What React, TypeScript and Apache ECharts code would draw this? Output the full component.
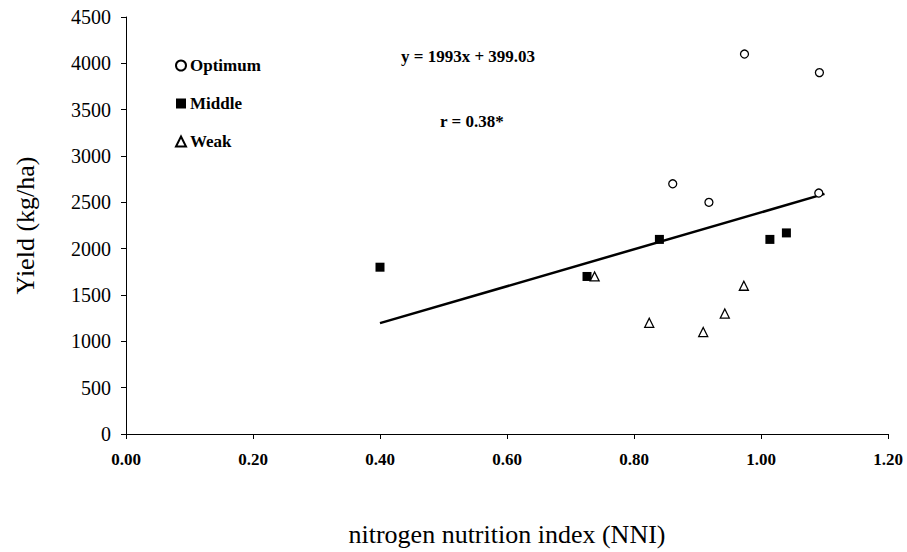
import React, { useEffect, useRef } from "react";
import * as echarts from "echarts";

const optimum: [number, number][] = [
  [0.974, 4100],
  [1.092, 3900],
  [0.861, 2700],
  [0.918, 2500],
  [1.091, 2600],
];
const middle: [number, number][] = [
  [0.40, 1800],
  [0.726, 1700],
  [0.84, 2100],
  [1.014, 2100],
  [1.04, 2170],
];
const weak: [number, number][] = [
  [0.738, 1700],
  [0.973, 1600],
  [0.943, 1300],
  [0.824, 1200],
  [0.909, 1100],
];
const trend: [number, number][] = [
  [0.40, 1196],
  [1.10, 2591],
];
const seriesNames = ["Optimum", "Middle", "Weak"];
const equationText = "y = 1993x + 399.03";
const rText = "r = 0.38*";
const xName = "nitrogen nutrition index (NNI)";
const yName = "Yield (kg/ha)";

const FONT = "Liberation Serif";

export default function App() {
  const ref = useRef<HTMLDivElement>(null);
  useEffect(() => {
    if (!ref.current) return;
    const chart = echarts.init(ref.current, null, { renderer: "svg" });
    chart.setOption({
      animation: false,
      backgroundColor: "#fff",
      grid: { left: 126, right: 19, top: 17, bottom: 115 },
      legend: {
        data: seriesNames,
        orient: "vertical",
        left: 170,
        top: 52,
        itemWidth: 10,
        itemHeight: 10,
        itemGap: 21,
        textStyle: { fontFamily: FONT, fontWeight: "bold", fontSize: 17, color: "#000", padding: [0, 0, 0, -1] },
      },
      xAxis: {
        type: "value",
        min: 0,
        max: 1.2,
        interval: 0.2,
        name: xName,
        nameLocation: "middle",
        nameGap: 87,
        nameTextStyle: { fontFamily: FONT, fontSize: 26, color: "#000" },
        axisLine: { show: true, lineStyle: { color: "#000", width: 1 } },
        axisTick: { show: true, inside: false, length: 5, lineStyle: { color: "#000" } },
        splitLine: { show: false },
        axisLabel: {
          fontFamily: FONT,
          fontWeight: "bold",
          fontSize: 17,
          color: "#000",
          margin: 17,
          formatter: (v: number) => v.toFixed(2),
        },
      },
      yAxis: {
        type: "value",
        min: 0,
        max: 4500,
        interval: 500,
        name: yName,
        nameLocation: "middle",
        nameGap: 88,
        nameTextStyle: { fontFamily: FONT, fontSize: 26, color: "#000" },
        axisLine: { show: true, lineStyle: { color: "#000", width: 1 } },
        axisTick: { show: true, inside: false, length: 5, lineStyle: { color: "#000" } },
        splitLine: { show: false },
        axisLabel: {
          fontFamily: FONT,
          fontSize: 20,
          color: "#000",
          margin: 15,
          formatter: (v: number) => String(v),
        },
      },
      graphic: [
        {
          type: "text",
          left: 401,
          top: 48,
          style: { text: equationText, fontFamily: FONT, fontWeight: "bold", fontSize: 17, fill: "#000" },
        },
        {
          type: "text",
          left: 440,
          top: 113,
          style: { text: rText, fontFamily: FONT, fontWeight: "bold", fontSize: 17, fill: "#000" },
        },
      ],
      series: [
        {
          name: "Trend",
          type: "line",
          data: trend,
          symbol: "none",
          silent: true,
          lineStyle: { color: "#000", width: 2.5 },
          z: 1,
        },
        {
          name: seriesNames[0],
          type: "scatter",
          data: optimum,
          symbol: "circle",
          symbolSize: 8,
          itemStyle: { color: "#fff", borderColor: "#000", borderWidth: 1.3, opacity: 1 },
          z: 3,
        },
        {
          name: seriesNames[1],
          type: "scatter",
          data: middle,
          symbol: "rect",
          symbolSize: 9,
          itemStyle: { color: "#000", opacity: 1 },
          z: 3,
        },
        {
          name: seriesNames[2],
          type: "scatter",
          data: weak,
          symbol: "triangle",
          symbolSize: 9,
          itemStyle: { color: "#fff", borderColor: "#000", borderWidth: 1.3, opacity: 1 },
          z: 4,
        },
      ],
    });
    return () => chart.dispose();
  }, []);
  return <div ref={ref} style={{ width: 907, height: 552, position: "absolute", left: 0, top: 0 }} />;
}
